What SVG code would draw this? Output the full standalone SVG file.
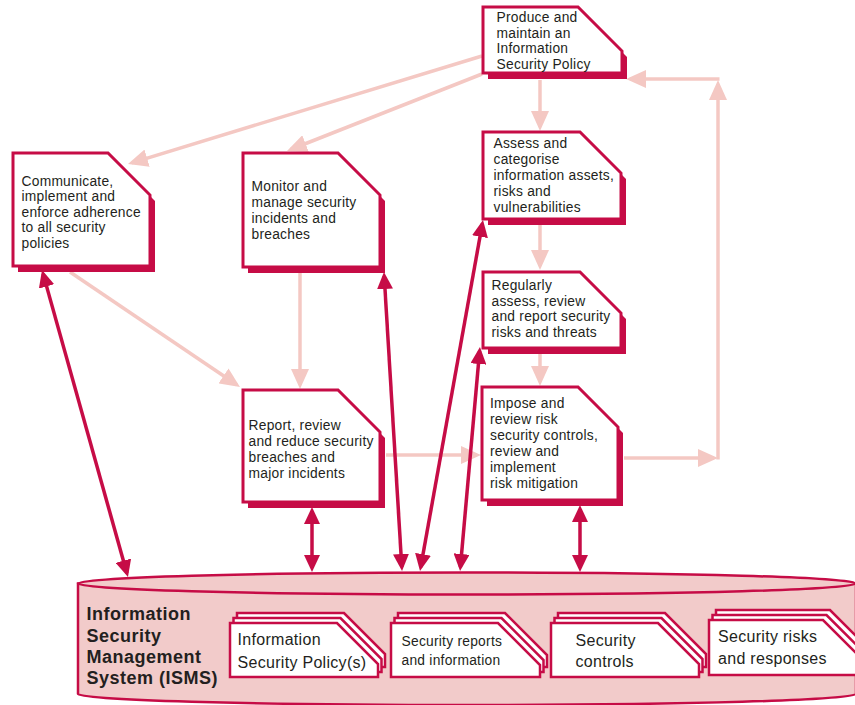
<svg xmlns="http://www.w3.org/2000/svg" width="855" height="705" viewBox="0 0 855 705">
<style>
.sh{fill:#C60C46}
.bx{fill:#fff;stroke:#C60C46;stroke-width:3;stroke-linejoin:miter}
.t{font-family:"Liberation Sans",Arial,sans-serif;font-size:13.8px;letter-spacing:0.25px;fill:#231F20}
.dt{font-family:"Liberation Sans",Arial,sans-serif;font-size:16px;letter-spacing:0.3px;fill:#231F20}
.st{font-family:"Liberation Sans",Arial,sans-serif;font-size:13.8px;letter-spacing:0.25px;fill:#231F20}
.bt{font-family:"Liberation Sans",Arial,sans-serif;font-size:18px;font-weight:700;letter-spacing:0.5px;fill:#231F20}
.pl{stroke:#F4C8C3;stroke-width:3.5;fill:none;marker-end:url(#hp)}
.cl{stroke:#C60C46;stroke-width:3.5;fill:none;marker-start:url(#hc);marker-end:url(#hc)}
.sheet{fill:#fff;stroke:#C60C46;stroke-width:2.5}
</style>
<defs>
<marker id="hp" markerUnits="userSpaceOnUse" viewBox="0 0 20 18" refX="16" refY="9" markerWidth="20" markerHeight="18" orient="auto"><path d="M0,0 L20,9 L0,18 Z" fill="#F4C8C3"/></marker>
<marker id="hc" markerUnits="userSpaceOnUse" viewBox="0 0 17 16" refX="13" refY="8" markerWidth="17" markerHeight="16" orient="auto-start-reverse"><path d="M0,0 L17,8 L0,16 Z" fill="#C60C46"/></marker>
</defs>

<g id="isms">
<path d="M78,583.5 V694 A389,11 0 0 0 856,694 V583.5 Z" fill="#F2CBCA" stroke="#C60C46" stroke-width="2.5"/>
<ellipse cx="467" cy="583.5" rx="389" ry="11" fill="#F2CBCA" stroke="#C60C46" stroke-width="2.5"/>
<text class="bt" x="86.5" y="620">Information</text>
<text class="bt" x="86.5" y="641.5">Security</text>
<text class="bt" x="86.5" y="662.5">Management</text>
<text class="bt" x="86.5" y="683.5">System (ISMS)</text>
</g>

<g id="doc-policy">
<path class="sheet" d="M237,613 H344 L385,654 V667 H237 Z"/>
<path class="sheet" d="M233.5,618 H340.5 L381.5,659 V672 H233.5 Z"/>
<path class="sheet" d="M230,623 H337 L378,664 V677 H230 Z"/>
<text class="dt" x="237.5" y="645">Information</text>
<text class="dt" x="237.5" y="668">Security Policy(s)</text>
</g>
<g id="doc-reports">
<path class="sheet" d="M398,613 H505 L547,655 V667 H398 Z"/>
<path class="sheet" d="M394.5,618 H501.5 L543.5,660 V672 H394.5 Z"/>
<path class="sheet" d="M391,623 H498 L540,665 V677 H391 Z"/>
<text class="st" x="401.5" y="646">Security reports</text>
<text class="st" x="401.5" y="665">and information</text>
</g>
<g id="doc-controls">
<path class="sheet" d="M558,613 H665 L706,654 V667 H558 Z"/>
<path class="sheet" d="M554.5,618 H661.5 L702.5,659 V672 H554.5 Z"/>
<path class="sheet" d="M551,623 H658 L699,664 V677 H551 Z"/>
<text class="dt" x="575.5" y="646">Security</text>
<text class="dt" x="575.5" y="667">controls</text>
</g>
<g id="doc-risks">
<path class="sheet" d="M716,610 H830 L871,651 V665 H716 Z"/>
<path class="sheet" d="M712.5,615 H826.5 L867.5,656 V670 H712.5 Z"/>
<path class="sheet" d="M709,620 H823 L864,661 V675 H709 Z"/>
<text class="dt" x="718" y="642">Security risks</text>
<text class="dt" x="718" y="664">and responses</text>
</g>

<g id="connectors">
<line class="pl" x1="482" y1="56" x2="131.8" y2="162.8"/>
<line class="pl" x1="482" y1="74" x2="290.7" y2="149.5"/>
<line class="pl" x1="540" y1="80" x2="540" y2="127"/>
<line class="pl" x1="540" y1="225" x2="540" y2="266"/>
<line class="pl" x1="540" y1="354" x2="540" y2="382"/>
<line class="pl" x1="70" y1="272" x2="236.7" y2="384.8"/>
<line class="pl" x1="300" y1="273" x2="300" y2="385"/>
<line class="pl" x1="386" y1="455" x2="477" y2="455"/>
<line class="pl" x1="624" y1="458" x2="714" y2="458"/>
<line class="pl" x1="718" y1="459.5" x2="718" y2="84"/>
<line class="pl" x1="719.5" y1="79" x2="630" y2="79"/>
<line class="cl" x1="43.1" y1="273.9" x2="126.9" y2="573.2"/>
<line class="cl" x1="384.2" y1="276" x2="401.8" y2="567"/>
<line class="cl" x1="482.3" y1="223.9" x2="420.7" y2="567.1"/>
<line class="cl" x1="479.6" y1="351" x2="460.4" y2="567"/>
<line class="cl" x1="312" y1="511" x2="312" y2="568"/>
<line class="cl" x1="580" y1="509" x2="580" y2="568"/>
</g>

<g id="n-produce">
<path class="sh" d="M488,13 H583 L627,57 V79 H488 Z"/>
<path class="bx" d="M483,7 H578 L622,51 V73 H483 Z"/>
<text class="t" x="496.5" y="21.7">Produce and</text>
<text class="t" x="496.5" y="37.5">maintain an</text>
<text class="t" x="496.5" y="53.3">Information</text>
<text class="t" x="496.5" y="69.2">Security Policy</text>
</g>
<g id="n-communicate">
<path class="sh" d="M18,159 H113 L155,201 V272 H18 Z"/>
<path class="bx" d="M13,153 H108 L150,195 V266 H13 Z"/>
<text class="t" x="21.5" y="185.5">Communicate,</text>
<text class="t" x="21.5" y="201">implement and</text>
<text class="t" x="21.5" y="216.5">enforce adherence</text>
<text class="t" x="21.5" y="232">to all security</text>
<text class="t" x="21.5" y="247.5">policies</text>
</g>
<g id="n-monitor">
<path class="sh" d="M248,159 H343 L385,201 V273 H248 Z"/>
<path class="bx" d="M243,153 H338 L380,195 V267 H243 Z"/>
<text class="t" x="251.5" y="191">Monitor and</text>
<text class="t" x="251.5" y="207">manage security</text>
<text class="t" x="251.5" y="223">incidents and</text>
<text class="t" x="251.5" y="239">breaches</text>
</g>
<g id="n-assess">
<path class="sh" d="M488,138 H585 L626,179 V225 H488 Z"/>
<path class="bx" d="M483,132 H580 L621,173 V219 H483 Z"/>
<text class="t" x="493.5" y="147.7">Assess and</text>
<text class="t" x="493.5" y="163.7">categorise</text>
<text class="t" x="493.5" y="179.7">information assets,</text>
<text class="t" x="493.5" y="195.7">risks and</text>
<text class="t" x="493.5" y="211.7">vulnerabilities</text>
</g>
<g id="n-regularly">
<path class="sh" d="M488,278 H585 L626,319 V354 H488 Z"/>
<path class="bx" d="M483,272 H580 L621,313 V348 H483 Z"/>
<text class="t" x="491.5" y="290">Regularly</text>
<text class="t" x="491.5" y="305.6">assess, review</text>
<text class="t" x="491.5" y="321.2">and report security</text>
<text class="t" x="491.5" y="336.8">risks and threats</text>
</g>
<g id="n-report">
<path class="sh" d="M248,396 H343 L385,438 V508 H248 Z"/>
<path class="bx" d="M243,390 H338 L380,432 V502 H243 Z"/>
<text class="t" x="248.5" y="430">Report, review</text>
<text class="t" x="248.5" y="445.9">and reduce security</text>
<text class="t" x="248.5" y="461.8">breaches and</text>
<text class="t" x="248.5" y="477.7">major incidents</text>
</g>
<g id="n-impose">
<path class="sh" d="M487,393 H583 L623,433 V506 H487 Z"/>
<path class="bx" d="M482,387 H578 L618,427 V500 H482 Z"/>
<text class="t" x="490" y="408.3">Impose and</text>
<text class="t" x="490" y="424.3">review risk</text>
<text class="t" x="490" y="440.3">security controls,</text>
<text class="t" x="490" y="456.3">review and</text>
<text class="t" x="490" y="472.3">implement</text>
<text class="t" x="490" y="488.3">risk mitigation</text>
</g>
</svg>
